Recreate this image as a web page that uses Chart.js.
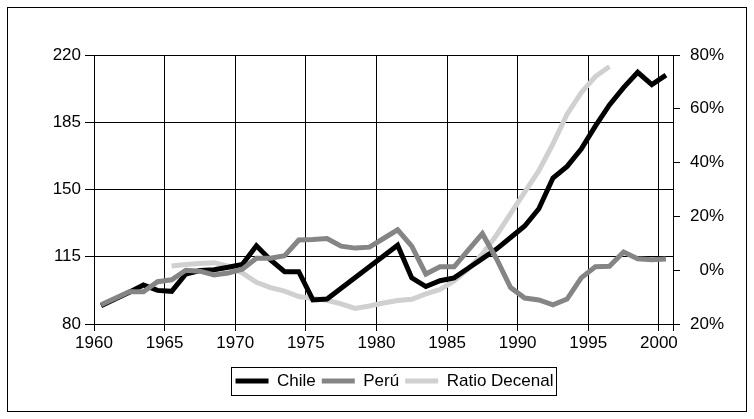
<!DOCTYPE html>
<html>
<head>
<meta charset="utf-8">
<script src="https://cdn.jsdelivr.net/npm/chart.js@4/dist/chart.umd.min.js"></script>
<style>
  html, body { margin: 0; padding: 0; background: #fff; }
  canvas { display: block; }
</style>
</head>
<body>
<canvas id="myChart" width="754" height="419"></canvas>
<script>
// data, one value per year
const years = [
  1960, 1961, 1962, 1963, 1964, 1965, 1966, 1967, 1968, 1969,
  1970, 1971, 1972, 1973, 1974, 1975, 1976, 1977, 1978, 1979,
  1980, 1981, 1982, 1983, 1984, 1985, 1986, 1987, 1988, 1989,
  1990, 1991, 1992, 1993, 1994, 1995, 1996, 1997, 1998, 1999, 2000
];
const chile = [
  89.5, 93, 96.5, 100.3, 97.5, 97, 106, 107.8, 108.2, 109.5,
  111, 120.7, 113.3, 107.2, 107.2, 92.5, 93, 98.6, 104.2, 109.8,
  115.4, 121, 104, 99.5, 102.5, 104, 109, 114, 119, 125,
  131, 140, 156, 162, 171, 183, 194, 203, 211, 204.6, 209.5
];
const peru = [
  90, 93.4, 96.8, 96.8, 102, 103, 108, 107.5, 105.5, 106.5,
  108.5, 114.2, 114.2, 115.5, 123.7, 124, 124.5, 120.5, 119.5, 120,
  124.5, 129, 120.5, 106, 109.8, 109.8, 118.5, 127, 114, 99,
  93.5, 92.5, 90, 93, 104, 109.8, 110, 117.5, 114, 113.5, 113.8
];
// ratio decenal, in %
const ratio = [
  null, null, null, null, null, 1.6, 2.1, 2.5, 2.8, 1.5,
  -1, -4.5, -6.5, -7.8, -9.8, -10.5, -11.2, -12.5, -14.2, -13.3,
  -12.2, -11.3, -10.8, -8.8, -7.2, -4, 0.5, 6, 13, 21,
  29, 37, 47, 58, 66, 72, 75.7, null, null, null, null
];
const xTickLabels = [1960, 1965, 1970, 1975, 1980, 1985, 1990, 1995, 2000];
const leftTicks = [80, 115, 150, 185, 220];
const rightTicks = [-20, 0, 20, 40, 60, 80];

// each year sits in the middle of its band on the axis
function pts(vals) {
  return years.map((yr, i) => ({ x: yr + 0.5, y: vals[i] }));
}

Chart.defaults.font.family = "'Liberation Sans', Arial, sans-serif";
Chart.defaults.font.size = 17;
Chart.defaults.color = '#000';

const frame = {
  id: 'frame',
  afterLayout(chart) {
    // move the legend a bit to the right, like the original
    chart.legend.left += 11;
    chart.legend.right += 11;
  },
  afterDraw(chart) {
    const ctx = chart.ctx;
    ctx.save();
    ctx.strokeStyle = '#000';
    ctx.lineWidth = 1;
    ctx.strokeRect(7.5, 7.5, 739, 404);
    const hb = chart.legend.legendHitBoxes;
    if (hb && hb.length) {
      const l = hb[0].left - 5;
      const last = hb[hb.length - 1];
      const r = last.left + last.width + 2;
      const t = hb[0].top - 5.5;
      const b = hb[0].top + hb[0].height + 5.5;
      ctx.strokeRect(Math.round(l) + 0.5, Math.round(t) + 0.5, Math.round(r - l), Math.round(b - t));
    }
    ctx.restore();
  }
};

const data = {
  datasets: [{
    label: 'Chile',
    data: pts(chile),
    borderColor: '#000',
    backgroundColor: '#000',
    borderWidth: 5,
    yAxisID: 'y',
    order: 1
  }, {
    label: 'Perú',
    data: pts(peru),
    borderColor: '#858585',
    backgroundColor: '#858585',
    borderWidth: 5,
    yAxisID: 'y',
    order: 0
  }, {
    label: 'Ratio Decenal',
    data: pts(ratio),
    borderColor: '#d0d0d0',
    backgroundColor: '#d0d0d0',
    borderWidth: 5,
    yAxisID: 'y1',
    order: 2
  }]
};

const config = {
  type: 'line',
  data: data,
  options: {
    responsive: false,
    animation: false,
    devicePixelRatio: 1,
    layout: { padding: { top: 55, left: 0, right: 30, bottom: 19.5 } },
    elements: { point: { radius: 0 }, line: { tension: 0 } },
    plugins: {
      tooltip: { enabled: false },
      legend: {
        position: 'bottom',
        fullSize: false,
        labels: {
          boxWidth: 33,
          boxHeight: 5,
          padding: 6,
          sort: (a, b) => a.datasetIndex - b.datasetIndex,
          generateLabels(chart) {
            const items = Chart.defaults.plugins.legend.labels.generateLabels(chart);
            items.forEach(it => { it.lineWidth = 0; it.strokeStyle = 'transparent'; });
            return items;
          }
        }
      }
    },
    scales: {
      x: {
        type: 'linear',
        min: 1960,
        max: 2001,
        afterBuildTicks(scale) {
          scale.ticks = xTickLabels.concat([2001]).map(v => ({ value: v }));
        },
        afterFit(scale) { scale.height = 42.5; },
        ticks: {
          padding: 2,
          maxRotation: 0,
          autoSkip: false,
          callback: v => xTickLabels.includes(v) ? String(v) : ''
        },
        grid: { color: '#000', lineWidth: 1, tickLength: 7 },
        border: { color: '#000', width: 1 }
      },
      y: {
        position: 'left',
        min: 80,
        max: 220,
        afterBuildTicks(scale) {
          scale.ticks = leftTicks.map(v => ({ value: v }));
        },
        afterFit(scale) { scale.width = 94; },
        ticks: { padding: 4 },
        grid: { color: '#000', lineWidth: 1, tickLength: 9 },
        border: { color: '#000', width: 1 }
      },
      y1: {
        position: 'right',
        min: -20,
        max: 80,
        afterBuildTicks(scale) {
          scale.ticks = rightTicks.map(v => ({ value: v }));
        },
        afterFit(scale) { scale.width = 51; },
        ticks: {
          crossAlign: 'far',
          callback: v => Math.abs(v) + '%'
        },
        grid: { drawOnChartArea: false, color: '#000', tickLength: 7 },
        border: { color: '#000', width: 1 }
      }
    }
  },
  plugins: [frame]
};

const myChart = new Chart(document.getElementById('myChart'), config);
</script>
</body>
</html>
